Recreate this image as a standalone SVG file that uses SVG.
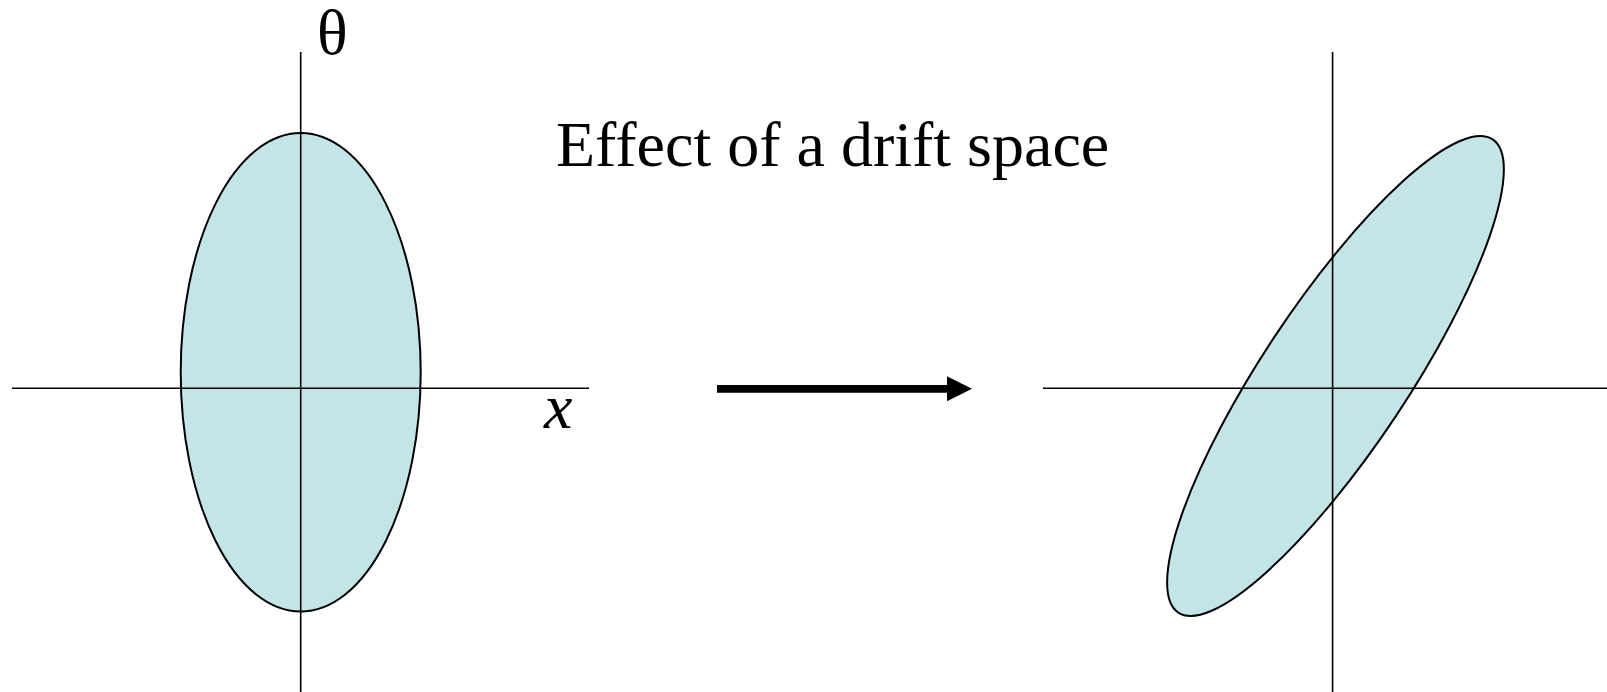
<svg xmlns="http://www.w3.org/2000/svg" width="1607" height="692" viewBox="0 0 1607 692">
  <style>
    .ell { fill: #c3e5e7; stroke: #000; stroke-width: 2; }
    .axis { stroke: #000; stroke-width: 1.6; fill: none; }
    .t { font-family: "Liberation Serif", "Times New Roman", serif; font-size: 64px; fill: #000; }
  </style>
  <defs>
    <marker id="ah" markerUnits="userSpaceOnUse" markerWidth="26" markerHeight="26" refX="1" refY="12.5" orient="auto">
      <path d="M0,0 L25,12.5 L0,25 z" fill="#000"/>
    </marker>
  </defs>
  <rect width="1607" height="692" fill="#fff"/>
  <g id="left-plot">
    <ellipse class="ell" cx="300.7" cy="372.3" rx="120" ry="239.3"/>
    <line class="axis" x1="12" y1="388.3" x2="589" y2="388.3"/>
    <line class="axis" x1="300.7" y1="52" x2="300.7" y2="692"/>
    <text class="t" x="317" y="54">θ</text>
    <text class="t" x="544" y="428" font-style="italic">x</text>
  </g>
  <g id="title">
    <text class="t" x="556" y="166">Effect of a drift space</text>
  </g>
  <g id="right-plot">
    <ellipse class="ell" cx="1335.5" cy="376" rx="284" ry="72.5" transform="rotate(-56.4 1335.5 376)"/>
    <line class="axis" x1="1043" y1="388.3" x2="1607" y2="388.3"/>
    <line class="axis" x1="1332.6" y1="52" x2="1332.6" y2="692"/>
  </g>
  <g id="connectors">
    <line x1="717" y1="388.8" x2="948" y2="388.8" stroke="#000" stroke-width="7.7" marker-end="url(#ah)"/>
  </g>
</svg>
